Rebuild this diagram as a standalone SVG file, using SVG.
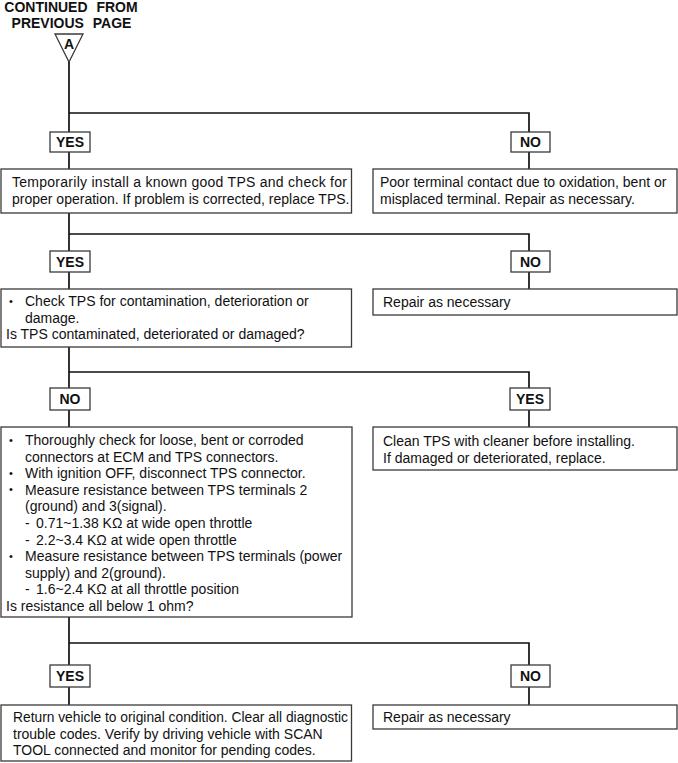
<svg xmlns="http://www.w3.org/2000/svg" width="678" height="763" viewBox="0 0 678 763">
<style>
.bg{fill:#fff}
.box{fill:#fff;stroke:#3a3a3a;stroke-width:1.3}
.lbl{fill:#fff;stroke:#3a3a3a;stroke-width:1.3}
.conn{fill:none;stroke:#111;stroke-width:1.7}
.t{font-family:"Liberation Sans",Arial,sans-serif;font-size:14px;fill:#111}
.bu{font-family:"Liberation Sans",Arial,sans-serif;font-size:11px;fill:#111}
.b{font-family:"Liberation Sans",Arial,sans-serif;font-size:14px;font-weight:bold;fill:#111}
</style>
<rect class="bg" x="0" y="0" width="678" height="763"/>
<g id="header">
<text class="b" x="71" y="11.5" text-anchor="middle" word-spacing="5" font-size="13.5">CONTINUED FROM</text>
<text class="b" x="71.5" y="27.5" text-anchor="middle" word-spacing="5" font-size="13.5">PREVIOUS PAGE</text>
<polygon class="box" points="55,34 83,34 69,62"/>
<text class="b" x="69" y="48.5" text-anchor="middle" font-size="12.5">A</text>
</g>
<g id="connectors">
<path class="conn" d="M69,62 V169"/>
<path class="conn" d="M69,113 H529 V169"/>
<path class="conn" d="M69,213 V289"/>
<path class="conn" d="M69,234 H529 V289"/>
<path class="conn" d="M69,347 V427"/>
<path class="conn" d="M69,372 H529 V427"/>
<path class="conn" d="M69,617 V705"/>
<path class="conn" d="M69,643 H529 V705"/>
</g>
<g id="lbl-yes1"><rect class="lbl" x="50" y="132" width="40" height="20"/><text class="b" x="70" y="147" text-anchor="middle">YES</text></g>
<g id="lbl-no1"><rect class="lbl" x="511" y="132" width="39" height="20"/><text class="b" x="530.5" y="147" text-anchor="middle">NO</text></g>
<g id="node-install">
<rect class="box" x="1" y="169" width="350.5" height="44"/>
<text class="t" x="12" y="187" textLength="335" lengthAdjust="spacing">Temporarily install a known good TPS and check for</text>
<text class="t" x="12" y="204">proper operation. If problem is corrected, replace TPS.</text>
</g>
<g id="node-poor">
<rect class="box" x="373" y="169" width="304" height="44"/>
<text class="t" x="380" y="187">Poor terminal contact due to oxidation, bent or</text>
<text class="t" x="380" y="204">misplaced terminal. Repair as necessary.</text>
</g>
<g id="lbl-yes2"><rect class="lbl" x="50" y="251" width="40" height="21"/><text class="b" x="70" y="266.5" text-anchor="middle">YES</text></g>
<g id="lbl-no2"><rect class="lbl" x="511" y="251" width="39" height="21"/><text class="b" x="530.5" y="266.5" text-anchor="middle">NO</text></g>
<g id="node-check">
<rect class="box" x="1" y="289" width="350.5" height="58"/>
<text class="bu" x="9" y="304.5">•</text>
<text class="t" x="25" y="306">Check TPS for contamination, deterioration or</text>
<text class="t" x="25" y="323">damage.</text>
<text class="t" x="6" y="339">Is TPS contaminated, deteriorated or damaged?</text>
</g>
<g id="node-repair1">
<rect class="box" x="373" y="289" width="304" height="26"/>
<text class="t" x="383" y="307">Repair as necessary</text>
</g>
<g id="lbl-no3"><rect class="lbl" x="50" y="388" width="40" height="22"/><text class="b" x="70" y="404" text-anchor="middle">NO</text></g>
<g id="lbl-yes3"><rect class="lbl" x="510" y="388" width="40" height="22"/><text class="b" x="530" y="404" text-anchor="middle">YES</text></g>
<g id="node-measure">
<rect class="box" x="1" y="427" width="351" height="190"/>
<text class="bu" x="9" y="443.5">•</text>
<text class="t" x="25" y="445">Thoroughly check for loose, bent or corroded</text>
<text class="t" x="25" y="461.6">connectors at ECM and TPS connectors.</text>
<text class="bu" x="9" y="476.7">•</text>
<text class="t" x="25" y="478.2">With ignition OFF, disconnect TPS connector.</text>
<text class="bu" x="9" y="493.3">•</text>
<text class="t" x="25" y="494.8">Measure resistance between TPS terminals 2</text>
<text class="t" x="25" y="511.4">(ground) and 3(signal).</text>
<text class="t" x="25" y="528">-</text>
<text class="t" x="36" y="528">0.71~1.38 KΩ at wide open throttle</text>
<text class="t" x="25" y="544.6">-</text>
<text class="t" x="36" y="544.6">2.2~3.4 KΩ at wide open throttle</text>
<text class="bu" x="9" y="559.7">•</text>
<text class="t" x="25" y="561.2">Measure resistance between TPS terminals (power</text>
<text class="t" x="25" y="577.8">supply) and 2(ground).</text>
<text class="t" x="25" y="594.4">-</text>
<text class="t" x="36" y="594.4">1.6~2.4 KΩ at all throttle position</text>
<text class="t" x="6" y="611">Is resistance all below 1 ohm?</text>
</g>
<g id="node-clean">
<rect class="box" x="373" y="427" width="304" height="43"/>
<text class="t" x="383" y="446">Clean TPS with cleaner before installing.</text>
<text class="t" x="383" y="462.6">If damaged or deteriorated, replace.</text>
</g>
<g id="lbl-yes4"><rect class="lbl" x="50" y="665" width="40" height="22"/><text class="b" x="70" y="681" text-anchor="middle">YES</text></g>
<g id="lbl-no4"><rect class="lbl" x="511" y="665" width="39" height="22"/><text class="b" x="530.5" y="681" text-anchor="middle">NO</text></g>
<g id="node-return">
<rect class="box" x="1" y="705" width="350.5" height="56"/>
<text class="t" x="13" y="722" textLength="335" lengthAdjust="spacingAndGlyphs">Return vehicle to original condition. Clear all diagnostic</text>
<text class="t" x="13" y="738.6">trouble codes. Verify by driving vehicle with SCAN</text>
<text class="t" x="13" y="755.2">TOOL connected and monitor for pending codes.</text>
</g>
<g id="node-repair2">
<rect class="box" x="373" y="705" width="304" height="24"/>
<text class="t" x="383" y="722">Repair as necessary</text>
</g>
</svg>
